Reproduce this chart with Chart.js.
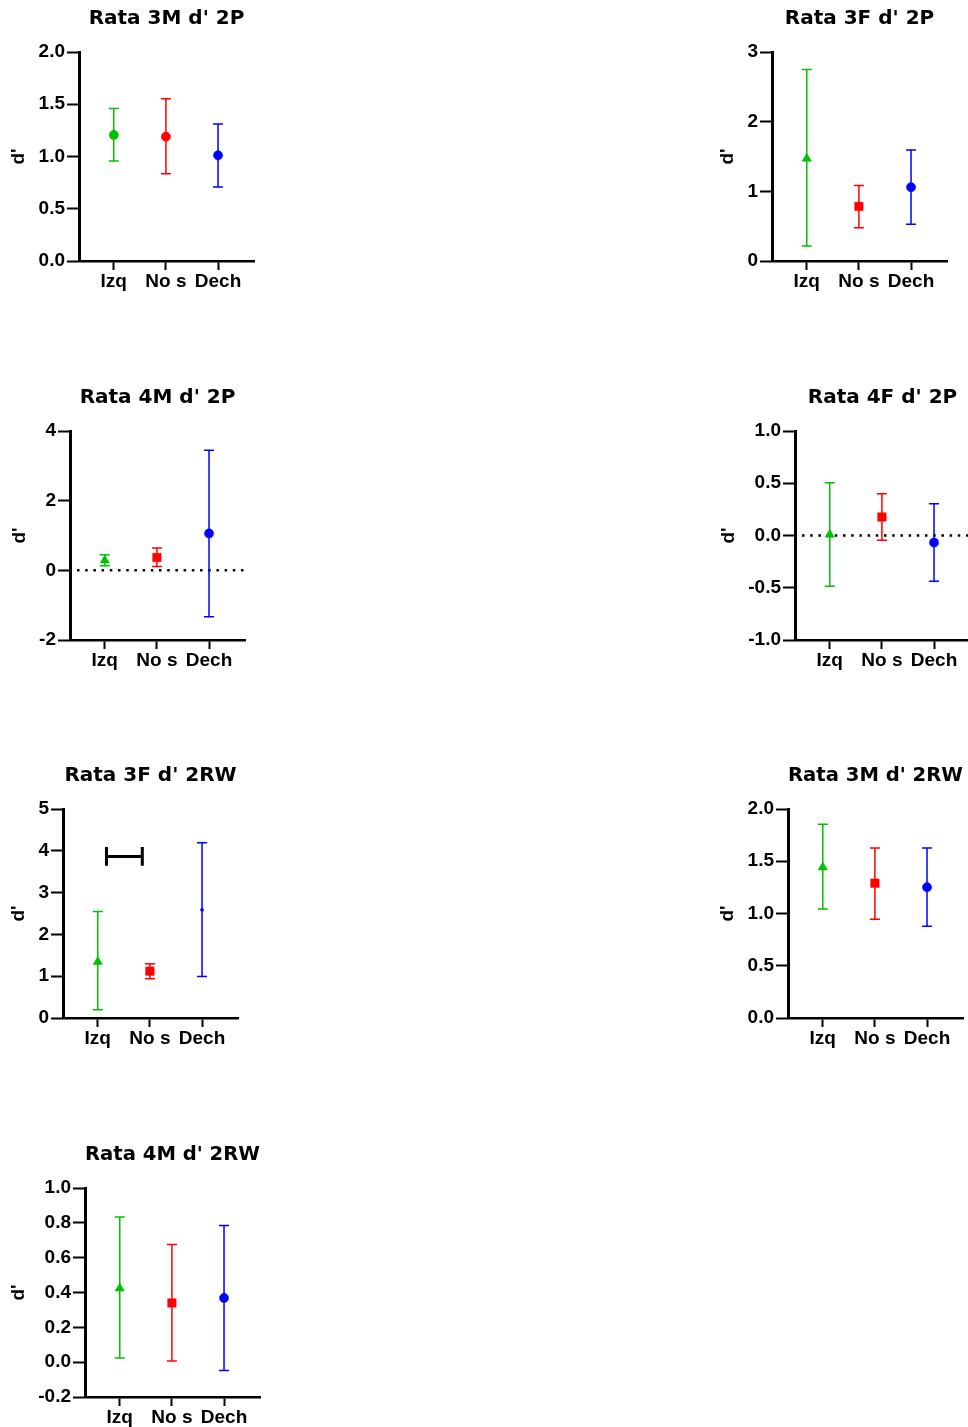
<!DOCTYPE html>
<html><head><meta charset="utf-8">
<script src="https://cdn.jsdelivr.net/npm/chart.js@4.4.0/dist/chart.umd.min.js"></script>
<style>
html,body{margin:0;padding:0;background:#fff;overflow:hidden;width:968px;height:1427px;position:relative}
canvas{position:absolute}
</style></head><body>
<script>
// ---------- DATA ----------
const categories = ['Izq', 'No s', 'Dech'];
const seriesColors = ['#00c000', '#ff0000', '#0000ff'];

const p1Title = "Rata 3M d' 2P";
const p1Mean = [1.206, 1.19, 1.011];
const p1Low  = [0.957, 0.835, 0.708];
const p1High = [1.46, 1.553, 1.311];
const p1Ticks = [0, 0.5, 1.0, 1.5, 2.0];
const p1Styles = ['circle', 'circle', 'circle'];

const p2Title = "Rata 3F d' 2P";
const p2Mean = [1.47, 0.784, 1.06];
const p2Low  = [0.215, 0.477, 0.526];
const p2High = [2.75, 1.085, 1.595];
const p2Ticks = [0, 1, 2, 3];
const p2Styles = ['triangle', 'rect', 'circle'];

const p3Title = "Rata 4M d' 2P";
const p3Mean = [0.286, 0.37, 1.06];
const p3Low  = [0.13, 0.11, -1.33];
const p3High = [0.45, 0.64, 3.45];
const p3Ticks = [-2, 0, 2, 4];
const p3Styles = ['triangle', 'rect', 'circle'];

const p4Title = "Rata 4F d' 2P";
const p4Mean = [0.008, 0.177, -0.068];
const p4Low  = [-0.485, -0.046, -0.437];
const p4High = [0.504, 0.40, 0.303];
const p4Ticks = [-1.0, -0.5, 0.0, 0.5, 1.0];
const p4Styles = ['triangle', 'rect', 'circle'];

const p5Title = "Rata 3F d' 2RW";
const p5Mean = [1.345, 1.12, 2.59];
const p5Low  = [0.198, 0.94, 0.995];
const p5High = [2.547, 1.30, 4.19];
const p5Ticks = [0, 1, 2, 3, 4, 5];
const p5Styles = ['triangle', 'rect', 'dot'];
const p5BracketX = [1.167, 1.854];
const p5BracketY = [3.64, 3.865, 4.09];

const p6Title = "Rata 3M d' 2RW";
const p6Mean = [1.443, 1.29, 1.252];
const p6Low  = [1.044, 0.946, 0.879];
const p6High = [1.853, 1.627, 1.627];
const p6Ticks = [0.0, 0.5, 1.0, 1.5, 2.0];
const p6Styles = ['triangle', 'rect', 'circle'];

const p7Title = "Rata 4M d' 2RW";
const p7Mean = [0.424, 0.34, 0.369];
const p7Low  = [0.024, 0.007, -0.048];
const p7High = [0.833, 0.676, 0.785];
const p7Ticks = [-0.2, 0.0, 0.2, 0.4, 0.6, 0.8, 1.0];
const p7Styles = ['triangle', 'rect', 'circle'];

// ---------- LAYOUT ----------
const panels = [
  {title:p1Title, mean:p1Mean, low:p1Low, high:p1High, ticks:p1Ticks, dec:1, styles:p1Styles, axisX:79,  top:52},
  {title:p2Title, mean:p2Mean, low:p2Low, high:p2High, ticks:p2Ticks, dec:0, styles:p2Styles, axisX:772, top:52},
  {title:p3Title, mean:p3Mean, low:p3Low, high:p3High, ticks:p3Ticks, dec:0, styles:p3Styles, axisX:70,  top:431, zeroLine:true},
  {title:p4Title, mean:p4Mean, low:p4Low, high:p4High, ticks:p4Ticks, dec:1, styles:p4Styles, axisX:795, top:431, zeroLine:true},
  {title:p5Title, mean:p5Mean, low:p5Low, high:p5High, ticks:p5Ticks, dec:0, styles:p5Styles, axisX:63,  top:809, bracketX:p5BracketX, bracketY:p5BracketY},
  {title:p6Title, mean:p6Mean, low:p6Low, high:p6High, ticks:p6Ticks, dec:1, styles:p6Styles, axisX:788, top:809},
  {title:p7Title, mean:p7Mean, low:p7Low, high:p7High, ticks:p7Ticks, dec:1, styles:p7Styles, axisX:85,  top:1188}
];

const X_MIN = 0.333, X_MAX = 3.69;
const PLOT_W = 175, PLOT_H = 209, TITLE_H = 52, XAXIS_H = 40, PAD_R = 12;
const CANVAS_H = TITLE_H + PLOT_H + XAXIS_H;
const styleShape = {circle:'circle', triangle:'triangle', rect:'rect', dot:'circle'};
const styleRadius = {circle:4.6, triangle:5.4, rect:6, dot:1.6};
const tickFont = {family:'Liberation Sans', weight:'bold', size:19};

function errorBarPlugin(p) {
  return {
    id: 'errorBars',
    beforeDatasetsDraw(chart) {
      const {ctx, chartArea} = chart;
      const x = chart.scales.x, y = chart.scales.y;
      ctx.save();
      if (p.zeroLine) {
        const yy = y.getPixelForValue(0);
        ctx.strokeStyle = '#000'; ctx.lineWidth = 2.5; ctx.setLineDash([2.5, 5.7]);
        ctx.beginPath(); ctx.moveTo(chartArea.left + 7, yy); ctx.lineTo(chartArea.right, yy); ctx.stroke();
        ctx.setLineDash([]);
      }
      p.mean.forEach((m, i) => {
        const px = x.getPixelForValue(i + 1);
        const yl = y.getPixelForValue(p.low[i]);
        const yh = y.getPixelForValue(p.high[i]);
        ctx.strokeStyle = seriesColors[i]; ctx.lineWidth = 1.5;
        ctx.beginPath();
        ctx.moveTo(px, yl); ctx.lineTo(px, yh);
        ctx.moveTo(px - 5, yl); ctx.lineTo(px + 5, yl);
        ctx.moveTo(px - 5, yh); ctx.lineTo(px + 5, yh);
        ctx.stroke();
      });
      if (p.bracketX) {
        const x1 = x.getPixelForValue(p.bracketX[0]);
        const x2 = x.getPixelForValue(p.bracketX[1]);
        const yLo = y.getPixelForValue(p.bracketY[0]);
        const yMid = y.getPixelForValue(p.bracketY[1]);
        const yHi = y.getPixelForValue(p.bracketY[2]);
        ctx.strokeStyle = '#000'; ctx.lineWidth = 3;
        ctx.beginPath();
        ctx.moveTo(x1, yMid); ctx.lineTo(x2, yMid);
        ctx.moveTo(x1, yLo); ctx.lineTo(x1, yHi);
        ctx.moveTo(x2, yLo); ctx.lineTo(x2, yHi);
        ctx.stroke();
      }
      ctx.restore();
    }
  };
}

function makeConfig(p, padLeft) {
  return {
    type: 'scatter',
    data: {
      datasets: [{
        data: p.mean.map((m, i) => ({x: i + 1, y: m})),
        pointStyle: p.styles.map(s => styleShape[s]),
        pointRadius: p.styles.map(s => styleRadius[s]),
        pointBackgroundColor: seriesColors,
        pointBorderColor: seriesColors,
        pointBorderWidth: 0.5
      }]
    },
    options: {
      responsive: false,
      animation: false,
      events: [],
      layout: {padding: {left: padLeft, right: PAD_R, top: 0, bottom: 0}},
      plugins: {
        legend: {display: false},
        tooltip: {enabled: false},
        title: {
          display: true, text: p.title, fullSize: false, color: '#000',
          font: {family: 'DejaVu Sans', weight: 'bold', size: 20, lineHeight: 1.2},
          padding: {top: 7, bottom: 21}
        }
      },
      scales: {
        x: {
          type: 'linear', min: X_MIN, max: X_MAX,
          afterBuildTicks: s => { s.ticks = categories.map((c, i) => ({value: i + 1})); },
          afterFit: s => { s.height = XAXIS_H; },
          ticks: {color: '#000', font: tickFont, padding: 0, maxRotation: 0, autoSkip: false,
                  callback: v => categories[Math.round(v) - 1]},
          grid: {display: true, drawOnChartArea: false, drawTicks: true, tickLength: 9, tickWidth: 2, tickColor: '#000'},
          border: {display: true, color: '#000', width: 2.5}
        },
        y: {
          type: 'linear', min: p.ticks[0], max: p.ticks[p.ticks.length - 1],
          afterBuildTicks: s => { s.ticks = p.ticks.map(v => ({value: v})); },
          ticks: {color: '#000', font: tickFont, padding: 2, autoSkip: false,
                  callback: v => Number(v).toFixed(p.dec)},
          grid: {display: true, drawOnChartArea: false, drawTicks: true, tickLength: 12, tickWidth: 2, tickColor: '#000'},
          border: {display: true, color: '#000', width: 3},
          title: {display: true, text: "d'", color: '#000',
                  font: {family: 'Liberation Sans', weight: 'bold', size: 19, lineHeight: 1.2},
                  padding: {top: 4, bottom: 6}}
        }
      }
    },
    plugins: [errorBarPlugin(p)]
  };
}

panels.forEach(p => {
  const probe = document.createElement('canvas');
  probe.width = 400; probe.height = CANVAS_H;
  probe.style.left = '-2000px'; probe.style.top = '0px';
  document.body.appendChild(probe);
  const tmp = new Chart(probe, makeConfig(p, 0));
  const L0 = tmp.chartArea.left;
  tmp.destroy();
  probe.remove();
  const L = Math.ceil(L0);
  const c = document.createElement('canvas');
  c.width = L + PLOT_W + PAD_R;
  c.height = CANVAS_H;
  c.style.left = (p.axisX - L) + 'px';
  c.style.top = (p.top - TITLE_H) + 'px';
  document.body.appendChild(c);
  new Chart(c, makeConfig(p, L - L0));
});
</script>
</body></html>
